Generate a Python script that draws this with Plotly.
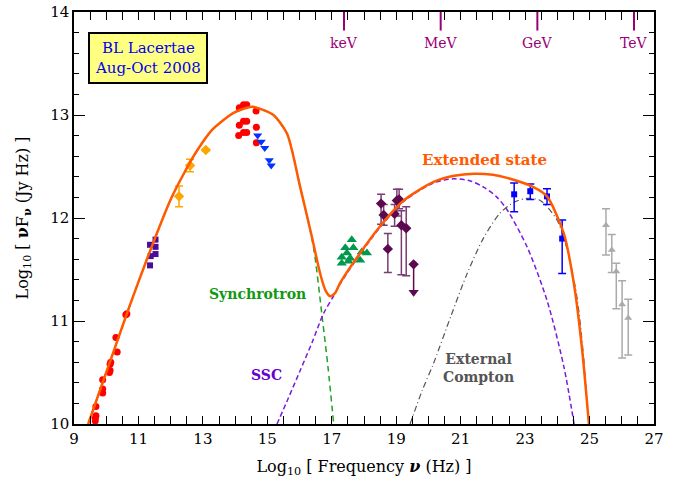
import plotly.graph_objects as go

# ---------------- data (log10 nu [Hz], log10 nuFnu [Jy Hz]) ----------------
radio_x = [9.66, 9.66, 9.68, 9.68, 9.89, 9.89, 9.89, 10.10, 10.12, 10.12, 10.14, 10.34, 10.30, 10.61, 10.64]
radio_y = [10.03, 10.055, 10.08, 10.17, 10.30, 10.34, 10.43, 10.50, 10.52, 10.58, 10.60, 10.70, 10.84, 11.06, 11.07]

opt_x = [14.13, 14.26, 14.36, 14.65, 14.13, 14.26, 14.36, 14.66, 14.11, 14.26, 14.36, 14.66]
opt_y = [13.07, 13.10, 13.10, 13.04, 12.90, 12.94, 12.94, 12.88, 12.80, 12.83, 12.83, 12.73]

uv_x = [14.70, 14.81, 14.92, 15.06, 15.12]
uv_y = [12.80, 12.74, 12.68, 12.56, 12.51]

mm_x = [12.26, 12.60, 13.09]
mm_y = [12.21, 12.51, 12.66]
mm_err = [0.10, 0.06, 0.008]

sub_x = [11.36, 11.53, 11.53, 11.38, 11.53, 11.36]
sub_y = [11.74, 11.79, 11.72, 11.63, 11.65, 11.54]

xray_x = [17.62, 17.42, 17.67, 17.47, 17.93, 18.09, 17.31, 17.57, 17.88, 17.31, 17.52]
xray_y = [11.79, 11.71, 11.71, 11.66, 11.67, 11.66, 11.62, 11.61, 11.59, 11.56, 11.58]

hx_x = [18.53, 18.61, 18.74, 18.95, 19.02, 19.09, 19.16, 19.31]
hx_y = [12.14, 12.03, 11.70, 12.04, 12.17, 12.18, 11.93, 11.90]
hx_up = [0.09, 0.10, 0.15, 0.09, 0.11, 0.10, 0.14, 0.21]
hx_dn = [0.20, 0.10, 0.23, 0.12, 0.15, 0.09, 0.48, 0.46]
ul_x = [19.54]
ul_y = [11.55]
ul_len = [0.27]

lat_x = [22.66, 23.16, 23.68, 24.15]
lat_y = [12.23, 12.26, 12.21, 11.80]
lat_up = [0.11, 0.07, 0.075, 0.18]
lat_dn = [0.17, 0.08, 0.08, 0.34]

vhe_x = [25.51, 25.69, 25.83, 26.01, 26.20]
vhe_y = [11.93, 11.69, 11.48, 11.16, 11.03]
vhe_up = [0.16, 0.15, 0.08, 0.23, 0.18]
vhe_dn = [0.29, 0.22, 0.36, 0.52, 0.36]

# model curves
tot_x = [9.44, 10.0, 10.64, 11.0, 11.57, 12.0, 12.39, 12.81, 13.3, 13.95, 14.36, 14.55, 14.78, 15.19, 15.61, 16.02,
         16.38, 16.64, 16.80, 16.95, 17.10, 17.26, 17.88, 18.5, 19.23, 20.16, 20.8, 21.40, 22.0, 22.44, 23.26, 23.68,
         24.20, 24.51, 24.77, 24.98]
tot_y = [10.0, 10.50, 11.07, 11.38, 11.85, 12.18, 12.42, 12.65, 12.86, 13.02, 13.07, 13.08, 13.06, 13.00, 12.82, 12.30,
         11.82, 11.46, 11.30, 11.24, 11.27, 11.37, 11.66, 11.92, 12.17, 12.35, 12.41, 12.43, 12.42, 12.39, 12.30, 12.21,
         11.85, 11.37, 10.72, 10.0]

syn_x = [9.44, 10.0, 10.64, 11.0, 11.57, 12.0, 12.39, 12.81, 13.3, 13.95, 14.36, 14.55, 14.78, 15.19, 15.61, 16.02,
         16.43, 16.69, 16.88, 17.06]
syn_y = [10.0, 10.50, 11.07, 11.38, 11.85, 12.18, 12.42, 12.65, 12.86, 13.02, 13.07, 13.08, 13.06, 13.00, 12.82, 12.30,
         11.72, 11.07, 10.56, 10.0]

ssc_x = [15.30, 15.65, 16.02, 16.40, 16.74, 17.05, 17.26, 17.88, 18.5, 19.23, 20.16, 20.78, 21.3, 21.71, 22.1, 22.44,
         23.06, 23.68, 24.20, 24.52]
ssc_y = [10.0, 10.25, 10.52, 10.80, 11.07, 11.24, 11.36, 11.65, 11.91, 12.16, 12.34, 12.38, 12.36, 12.30, 12.21, 12.08,
         11.72, 11.20, 10.56, 10.0]

ec_x = [19.43, 19.8, 20.16, 20.7, 21.20, 21.7, 22.23, 22.7, 23.06, 23.47, 23.99, 24.3, 24.6, 24.8, 24.97]
ec_y = [10.0, 10.32, 10.59, 11.05, 11.46, 11.80, 12.05, 12.16, 12.19, 12.17, 11.98, 11.70, 11.25, 10.70, 10.0]

energy_labels = ["keV", "MeV", "GeV", "TeV"]
energy_logfreq = [17.38, 20.38, 23.38, 26.38]

SERIF = "DejaVu Serif"

fig = go.Figure()

def curve(x, y, color, width, dash, smoothing=0.8):
    fig.add_trace(go.Scatter(x=x, y=y, mode="lines", line=dict(color=color, width=width, dash=dash,
                                                              shape="spline", smoothing=smoothing), hoverinfo="skip"))

curve(syn_x, syn_y, "#22a022", 1.5, "6px,4px")
curve(ssc_x, ssc_y, "#7a1ae0", 1.5, "5px,3px")
curve(ec_x, ec_y, "#555555", 1.2, "6px,3px,1px,3px")

def pts(x, y, color, symbol, size, err=None, errcolor=None, capw=4):
    kw = {}
    if err is not None:
        up, dn = err
        kw["error_y"] = dict(type="data", symmetric=False, array=up, arrayminus=dn,
                             color=errcolor or color, thickness=1.5, width=capw)
    fig.add_trace(go.Scatter(x=x, y=y, mode="markers",
                             marker=dict(color=color, symbol=symbol, size=size, line=dict(width=0)), **kw))

pts(radio_x, radio_y, "#ff0000", "circle", 7)
pts(sub_x, sub_y, "#4b0c9c", "square", 6)
pts(mm_x, mm_y, "#ffa500", "diamond", 8, (mm_err, mm_err), capw=4)
pts(opt_x, opt_y, "#ff0000", "circle", 7)
pts(uv_x, uv_y, "#0033ff", "triangle-down", 8)
pts(xray_x, xray_y, "#00994d", "triangle-up", 9)
pts(hx_x, hx_y, "#5c0a50", "diamond", 8, (hx_up, hx_dn), errcolor="#7b3b73", capw=4)
# upper limit
fig.add_trace(go.Scatter(x=ul_x, y=ul_y, mode="markers",
                         marker=dict(color="#5c0a50", symbol="diamond", size=8),
                         error_y=dict(type="data", symmetric=False, array=[0], arrayminus=ul_len,
                                      color="#5c0a50", thickness=1.5, width=0)))
fig.add_trace(go.Scatter(x=ul_x, y=[ul_y[0] - ul_len[0]], mode="markers",
                         marker=dict(color="#5c0a50", symbol="triangle-down", size=9)))
pts(lat_x, lat_y, "#0000ff", "square", 6, (lat_up, lat_dn), capw=4)
pts(vhe_x, vhe_y, "#aaaaaa", "triangle-up", 7, (vhe_up, vhe_dn), capw=4)

curve(tot_x, tot_y, "#ff5a00", 2.5, "solid", 0.7)

# energy markers at top
for lab, lx in zip(energy_labels, energy_logfreq):
    fig.add_shape(type="line", xref="x", yref="paper", x0=lx, x1=lx, y0=1.0, y1=0.955,
                  line=dict(color="#990077", width=2))
    fig.add_annotation(x=lx, y=0.95, xref="x", yref="paper", text=lab, showarrow=False,
                       yanchor="top", font=dict(family=SERIF, size=14, color="#990077"))

fig.add_annotation(x=0.127, y=0.888, xref="paper", yref="paper", showarrow=False,
                   xanchor="center", yanchor="middle",
                   text="BL Lacertae<br>Aug-Oct 2008", align="center",
                   font=dict(family=SERIF, size=15, color="#0000ee"),
                   bgcolor="#ffff80", bordercolor="black", borderwidth=2, borderpad=5)

fig.add_annotation(x=21.73, y=12.56, text="<b>Extended state</b>", showarrow=False,
                   font=dict(family=SERIF, size=15, color="#ff5a00"))
fig.add_annotation(x=14.68, y=11.26, text="<b>Synchrotron</b>", showarrow=False,
                   font=dict(family=SERIF, size=14, color="#119911"))
fig.add_annotation(x=14.96, y=10.48, text="<b>SSC</b>", showarrow=False,
                   font=dict(family=SERIF, size=14, color="#6600cc"))
fig.add_annotation(x=21.55, y=10.54, text="<b>External<br>Compton</b>", showarrow=False,
                   font=dict(family=SERIF, size=14, color="#555555"))

fig.update_layout(
    width=678, height=482, margin=dict(l=74, r=24, t=12, b=58, autoexpand=False),
    plot_bgcolor="white", paper_bgcolor="white", showlegend=False,
    font=dict(family=SERIF, size=15, color="black"),
    xaxis=dict(range=[9, 27], tick0=9, dtick=2, ticks="inside", ticklen=8, tickwidth=1, tickcolor="black",
               showline=True, linewidth=1.5, linecolor="black", mirror="ticks", showgrid=False, zeroline=False,
               automargin=False,
               minor=dict(dtick=0.5, ticks="inside", ticklen=8, tickcolor="black", showgrid=False),
               title=dict(text="Log<sub>10</sub> [ Frequency <b><i>ν</i></b> (Hz) ]", font=dict(size=16), standoff=14)),
    yaxis=dict(range=[10, 14], dtick=1, ticks="inside", ticklen=11, tickwidth=1, tickcolor="black",
               showline=True, linewidth=1.5, linecolor="black", mirror="ticks", showgrid=False, zeroline=False,
               automargin=False,
               minor=dict(dtick=0.2, ticks="inside", ticklen=5, tickcolor="black", showgrid=False),
               title=dict(text="Log<sub>10</sub> [ <b>ν</b>F<sub><b>ν</b></sub> (Jy Hz) ]", font=dict(size=16), standoff=18)),
)

# remove the default 8px page margin so the figure sits at the window's top-left corner
fig.write_html("out.html", config={"displayModeBar": False},
               post_script="document.body.style.margin='0';")
